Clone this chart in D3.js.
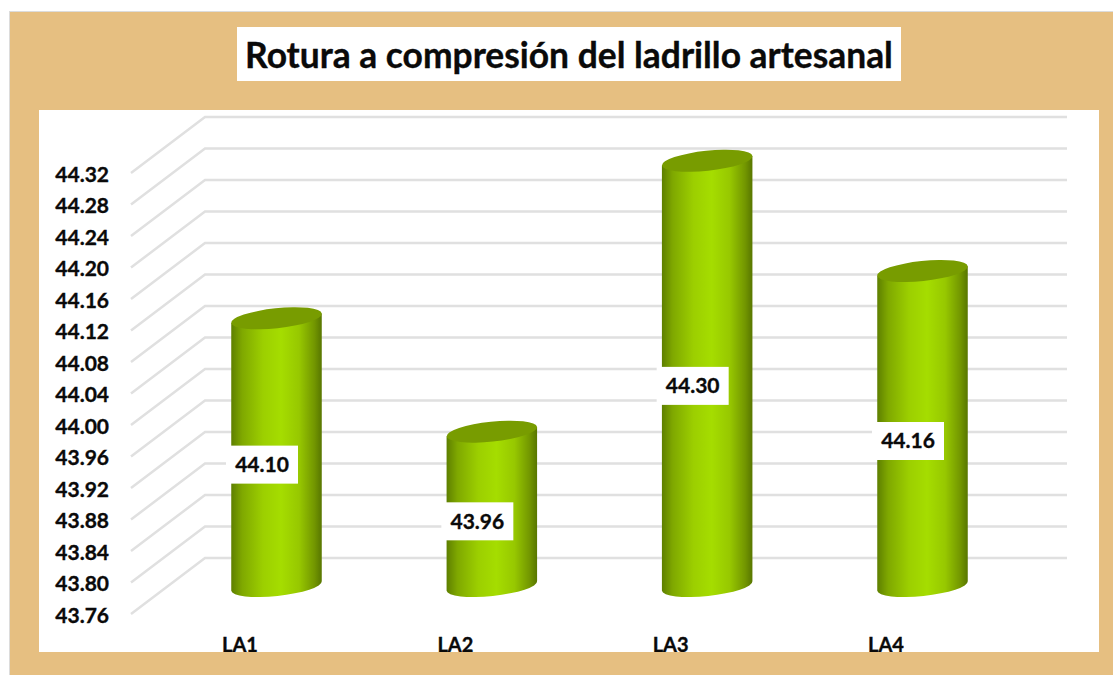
<!DOCTYPE html>
<html><head><meta charset="utf-8">
<script src="https://cdn.jsdelivr.net/npm/d3@7/dist/d3.min.js"></script>
<style>html,body{margin:0;padding:0;background:#fff}svg{display:block}text{font-family:Lato,"Open Sans",sans-serif;font-weight:700;fill:#0a0a0a;stroke:#0a0a0a;stroke-width:0.35px}</style>
</head><body><div id="c"></div>
<script>
const titleText = "Rotura a compresión del ladrillo artesanal";
const categories = ["LA1","LA2","LA3","LA4"];
const values = [44.10,43.956,44.30,44.16];
const tickValues = [43.76,43.80,43.84,43.88,43.92,43.96,44.00,44.04,44.08,44.12,44.16,44.20,44.24,44.28,44.32];

const W=1113,H=675;
const svg=d3.select("#c").append("svg").attr("width",W).attr("height",H);
const defs=svg.append("defs");
const grad=defs.append("linearGradient").attr("id","cyl").attr("x1",0).attr("x2",1).attr("y1",0).attr("y2",0);
[[0,"#5e7f00"],[0.12,"#7fa800"],[0.35,"#9ccf00"],[0.55,"#a5dd00"],[0.75,"#97c800"],[0.92,"#729600"],[1,"#587600"]]
 .forEach(([o,c])=>grad.append("stop").attr("offset",o).attr("stop-color",c));
defs.append("filter").attr("id","soft").append("feGaussianBlur").attr("stdDeviation",0.7);

// frame
svg.append("rect").attr("x",9.5).attr("y",11.5).attr("width",W).attr("height",H).attr("fill","#e6bf81").attr("stroke","#dcdcdc");
svg.append("rect").attr("x",39).attr("y",110).attr("width",1060).attr("height",542).attr("fill","#fff");
svg.append("rect").attr("x",237).attr("y",27).attr("width",664).attr("height",54).attr("fill","#fff");
svg.append("text").attr("x",569).attr("y",68).attr("text-anchor","middle").attr("font-size",35.4).text(titleText);

const depth={dx:74,dy:-56};
const y=d3.scaleLinear().domain([43.76,44.32]).range([614,173]);  // front wall edge
const x=d3.scalePoint().domain(categories).range([276.5,922.5]);
const frontX=131,rightX=1067;

// gridlines
const grid=svg.append("g").attr("filter","url(#soft)").attr("fill","none").attr("stroke","#e0e0e0").attr("stroke-width",2.5);
grid.selectAll("path").data(tickValues).join("path")
  .attr("d",t=>d3.line()([[frontX,y(t)],[frontX+depth.dx,y(t)+depth.dy],[rightX,y(t)+depth.dy]]));

// axis labels
svg.append("g").selectAll("text").data(tickValues).join("text")
  .attr("x",109).attr("y",t=>y(t)+1.5).attr("dy","0.35em").attr("text-anchor","end").attr("font-size",21)
  .text(d3.format(".2f"));

// cylinders
const rx=45.5,ry=10,rot=-6,rad=rot*Math.PI/180;
const ex=rx*Math.cos(rad),ey=rx*Math.sin(rad);
const mid=v=>y(v)+depth.dy/2;
const bars=svg.append("g").attr("filter","url(#soft)").selectAll("g").data(categories.map((c,i)=>({c,v:values[i]}))).join("g");
bars.append("path").attr("fill","url(#cyl)").attr("d",d=>{
  const cx=x(d.c),t=mid(d.v),b=mid(tickValues[0]);
  return `M${cx-ex},${t-ey}L${cx-ex},${b-ey}A${rx},${ry} ${rot} 0 0 ${cx+ex},${b+ey}L${cx+ex},${t+ey}Z`;
});
bars.append("ellipse").attr("fill","#789c00").attr("rx",rx).attr("ry",ry)
  .attr("transform",d=>`translate(${x(d.c)},${mid(d.v)}) rotate(${rot})`);

// data labels
const labelPos=d=>(mid(d.v)+mid(tickValues[0]))/2+12.5;
const labs=svg.append("g").selectAll("g").data(categories.map((c,i)=>({c,v:values[i]}))).join("g")
  .attr("transform",d=>`translate(${x(d.c)-14.5},${labelPos(d)})`);
labs.append("rect").attr("x",-36).attr("y",-19).attr("width",72).attr("height",38).attr("fill","#fff");
labs.append("text").attr("text-anchor","middle").attr("dy","0.35em").attr("font-size",21).text(d=>d.v.toFixed(2));

// category labels, cut by the frame strip
svg.append("g").selectAll("text").data(categories).join("text")
  .attr("x",c=>x(c)-36.5).attr("y",652).attr("text-anchor","middle").attr("font-size",20).text(c=>c);
svg.append("rect").attr("x",39).attr("y",652).attr("width",1060).attr("height",4).attr("fill","#e6bf81");
</script></body></html>
